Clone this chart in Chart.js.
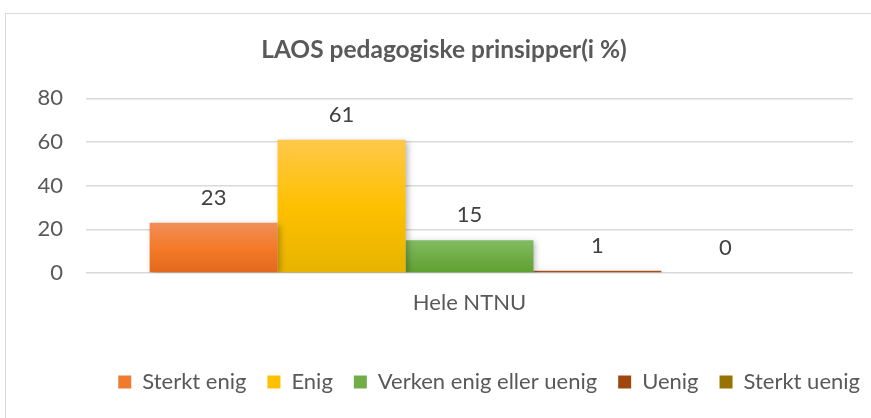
<!DOCTYPE html>
<html lang="no">
<head>
  <meta charset="UTF-8" />
  <title>LAOS pedagogiske prinsipper</title>
  <script src="https://cdn.jsdelivr.net/npm/chart.js"></script>
  <style>
    html, body {
      margin: 0;
      padding: 0;
      background: #ffffff;
      overflow: hidden;
    }

    body {
      position: relative;
      width: 871px;
      height: 418px;
    }

    .frame {
      position: absolute;
      left: 5px;
      top: 13px;
      width: 1000px;
      height: 1000px;
      border: 1px solid #d9d9d9;
    }

    .wrap {
      position: absolute;
      left: 0;
      top: 0;
      width: 881px;
      height: 418px;
    }
  </style>
</head>
<body>
  <div class="frame"></div>
  <div class="wrap">
    <canvas id="chart"></canvas>
  </div>

  <script>
    // data
    const categories = ['Hele NTNU'];
    const seriesNames = ['Sterkt enig', 'Enig', 'Verken enig eller uenig', 'Uenig', 'Sterkt uenig'];
    const seriesValues = [[23], [61], [15], [1], [0]];
    const yTicks = [0, 20, 40, 60, 80];

    // colours: [top, middle, bottom] of each bar gradient
    const baseColors = ['#f07b2f', '#ffc000', '#70ad47', '#9e480e', '#997300'];
    const gradColors = [
      ['#f08e58', '#f47a28', '#e3681c'],
      ['#ffc84a', '#ffc000', '#e6b300'],
      ['#82bb62', '#70ad47', '#5f9f2f'],
      ['#ad5d3a', '#9e480e', '#983a00'],
      ['#ab8537', '#997300', '#946c00']
    ];

    const FONT = 'Lato, "Open Sans", sans-serif';
    const TEXT = '#595959';

    function barFill(i) {
      return function (ctx) {
        const chart = ctx.chart;
        const y = chart.scales.y;
        if (!chart.chartArea || !y || ctx.type !== 'data') return baseColors[i];
        const top = y.getPixelForValue(ctx.raw);
        const bottom = y.getPixelForValue(0);
        if (!(bottom - top > 0.5)) return baseColors[i];
        const g = chart.ctx.createLinearGradient(0, top, 0, bottom);
        g.addColorStop(0, gradColors[i][0]);
        g.addColorStop(0.5, gradColors[i][1]);
        g.addColorStop(1, gradColors[i][2]);
        return g;
      };
    }

    // soft shadow under the bars
    const barShadow = {
      id: 'barShadow',
      beforeDatasetDraw(chart) {
        const c = chart.ctx;
        c.save();
        c.shadowColor = 'rgba(0, 0, 0, 0.28)';
        c.shadowBlur = 6;
        c.shadowOffsetX = 2;
        c.shadowOffsetY = 2;
      },
      afterDatasetDraw(chart) {
        chart.ctx.restore();
      }
    };

    // value labels above bars
    const valueLabels = {
      id: 'valueLabels',
      afterDatasetsDraw(chart) {
        const c = chart.ctx;
        c.save();
        c.font = '22px ' + FONT;
        c.fillStyle = '#404040';
        c.textAlign = 'center';
        c.textBaseline = 'middle';
        chart.data.datasets.forEach((ds, i) => {
          chart.getDatasetMeta(i).data.forEach((bar, j) => {
            c.fillText(ds.data[j], bar.x, bar.y - 25);
          });
        });
        c.restore();
      }
    };

    const datasets = seriesNames.map((name, i) => ({
      label: name,
      data: seriesValues[i],
      backgroundColor: barFill(i),
      borderWidth: 0,
      categoryPercentage: 0.834,
      barPercentage: 1
    }));

    new Chart(document.getElementById('chart'), {
      type: 'bar',
      data: { labels: categories, datasets: datasets },
      plugins: [barShadow, valueLabels],
      options: {
        responsive: true,
        maintainAspectRatio: false,
        animation: false,
        layout: { padding: { left: 7, right: 0, top: 0, bottom: 15 } },
        plugins: {
          title: {
            display: true,
            text: 'LAOS pedagogiske prinsipper(i %)',
            color: TEXT,
            font: { family: FONT, size: 24.5, weight: 'bold', lineHeight: 1.2 },
            padding: { top: 35, bottom: 34 }
          },
          legend: {
            position: 'bottom',
            align: 'end',
            labels: {
              color: TEXT,
              font: { family: FONT, size: 22 },
              boxWidth: 13,
              boxHeight: 13,
              padding: 21,
              generateLabels(chart) {
                const items = Chart.defaults.plugins.legend.labels.generateLabels(chart);
                items.forEach((it, i) => {
                  it.fillStyle = baseColors[i];
                  it.lineWidth = 0;
                  it.strokeStyle = 'transparent';
                });
                return items;
              }
            }
          },
          tooltip: { enabled: false }
        },
        scales: {
          x: {
            grid: { display: false, drawTicks: false },
            border: { display: false },
            ticks: {
              color: TEXT,
              font: { family: FONT, size: 22 },
              padding: 17
            },
            afterFit(s) { s.height = 77; }
          },
          y: {
            min: 0,
            max: 80,
            afterBuildTicks(s) { s.ticks = yTicks.map(v => ({ value: v })); },
            grid: { color: '#d9d9d9', lineWidth: 1.5, drawTicks: false },
            border: { display: false },
            ticks: {
              color: TEXT,
              font: { family: FONT, size: 22 },
              padding: 23
            },
            afterFit(s) { s.width = 79; }
          },
          y2: {
            position: 'right',
            display: true,
            grid: { display: false },
            border: { display: false },
            ticks: { display: false },
            afterFit(s) { s.width = 28; }
          }
        }
      }
    });
  </script>
</body>
</html>
